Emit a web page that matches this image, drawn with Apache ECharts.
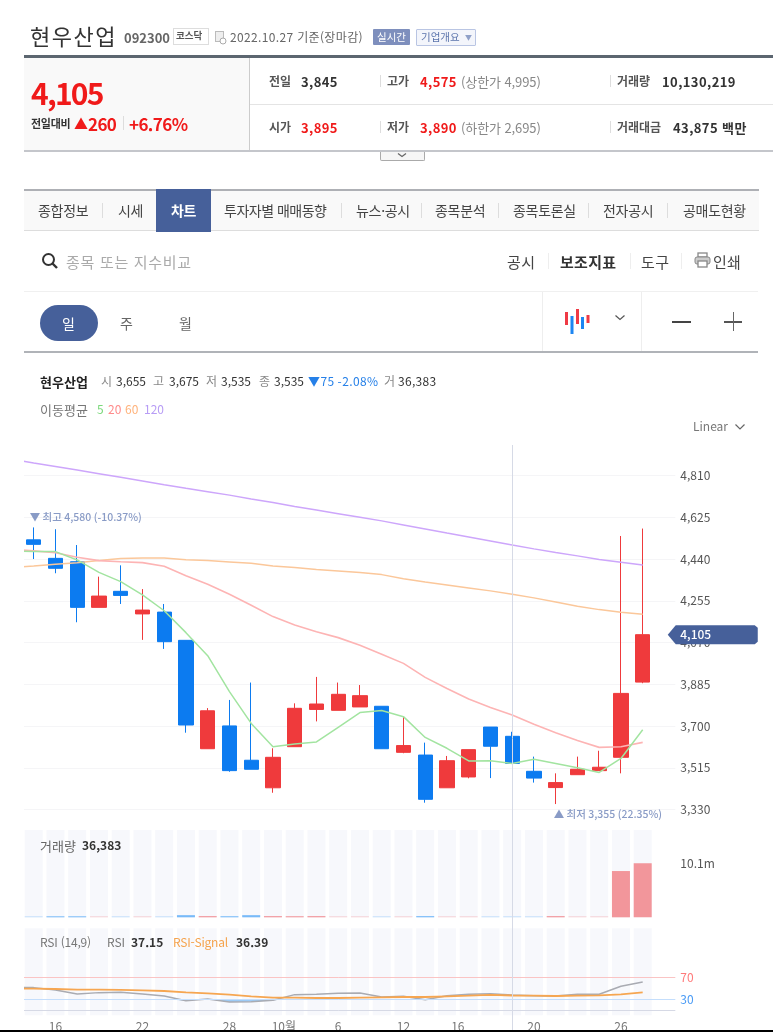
<!DOCTYPE html>
<html lang="ko"><head><meta charset="utf-8">
<script src="https://cdn.jsdelivr.net/npm/echarts@6/dist/echarts.min.js"></script>
<style>
html,body{margin:0;padding:0;background:#fff;width:773px;height:1032px;overflow:hidden;font-family:"Noto Sans CJK KR","Noto Sans",sans-serif}
#chart{position:absolute;left:0;top:0;width:773px;height:1032px;clip-path:inset(0 0 0 24px);filter:blur(.35px)}
#ui{position:absolute;left:0;top:0;width:773px;height:1032px;pointer-events:none;filter:blur(.3px)}
.t{position:absolute;white-space:nowrap;line-height:1;transform:translateY(-50%);font-size:12px;color:#444}
.b{font-weight:700}.r{color:#f01a1a}.g{color:#888}
.box{position:absolute}
.n{font-size:13px;font-weight:700;color:#333;letter-spacing:.4px}
.nav{font-size:14px;color:#444;letter-spacing:-.3px}
.sep{position:absolute;width:1px;background:#ddd}
svg{position:absolute}
</style></head><body>
<div id="chart"></div>
<div id="ui">
<span class="t" style="left:30px;top:35px;font-size:22px;color:#333;letter-spacing:1.5px">현우산업</span>
<span class="t b" style="left:124px;top:37px;font-size:13px;color:#666">092300</span>
<span class="box" style="left:173px;top:28px;width:34px;height:15px;border:1px solid #ddd"></span>
<span class="t b" style="left:176px;top:36px;font-size:9.5px;color:#555">코스닥</span>
<svg style="left:215px;top:31px" width="12" height="14"><rect x="0.5" y="0.5" width="8" height="10" fill="#eee" stroke="#bbb"/><circle cx="8" cy="10" r="3" fill="#fff" stroke="#aaa"/></svg>
<span class="t" style="left:230px;top:37px;color:#666;letter-spacing:.35px">2022.10.27 기준(장마감)</span>
<span class="box" style="left:373px;top:29px;width:37px;height:16px;background:#7e8fbd;border-radius:1px"></span>
<span class="t" style="left:377px;top:37px;font-size:10.5px;color:#fff">실시간</span>
<span class="box" style="left:416px;top:29px;width:58px;height:15px;background:#f3f5fb;border:1px solid #b9c5e3;border-radius:1px"></span>
<span class="t" style="left:421px;top:37px;font-size:10.5px;color:#5b74ac">기업개요</span>
<span class="t" style="left:465px;top:37px;font-size:7px;color:#8fa0c8">▼</span>

<div class="box" style="left:24px;top:55px;width:749px;height:3px;background:#5c6670"></div>
<div class="box" style="left:24px;top:58px;width:225px;height:93px;background:#f9f9f9"></div>
<div class="box" style="left:249px;top:58px;width:1px;height:93px;background:#ccc"></div>
<div class="box" style="left:250px;top:104px;width:523px;height:1px;background:#e4e4e4"></div>
<div class="box" style="left:24px;top:150px;width:749px;height:2px;background:#c4c6cb"></div>
<span class="t b r" style="left:31px;top:92px;font-size:30px;letter-spacing:-1.8px">4,105</span>
<span class="t b" style="left:31px;top:123px;font-size:11px;color:#333;letter-spacing:-.3px">전일대비</span>
<span class="t b r" style="left:74px;top:123px;font-size:14px">▲</span>
<span class="t b r" style="left:88px;top:123px;font-size:17px;letter-spacing:-.6px">260</span>
<div class="sep" style="left:123px;top:116px;height:14px"></div>
<span class="t b r" style="left:129px;top:123px;font-size:17px;letter-spacing:-.6px">+6.76%</span>

<span class="t b" style="left:269px;top:81px;color:#555">전일</span>
<span class="t n" style="left:301px;top:81px">3,845</span>
<div class="sep" style="left:380px;top:75px;height:12px"></div>
<span class="t b" style="left:387px;top:81px;color:#555">고가</span>
<span class="t n r" style="left:420px;top:81px;color:#f01a1a">4,575</span>
<span class="t g" style="left:461px;top:81px;font-size:13px;letter-spacing:-.1px">(상한가 4,995)</span>
<div class="sep" style="left:610px;top:75px;height:12px"></div>
<span class="t b" style="left:617px;top:81px;color:#555">거래량</span>
<span class="t n" style="left:662px;top:81px">10,130,219</span>

<span class="t b" style="left:269px;top:127px;color:#555">시가</span>
<span class="t n r" style="left:301px;top:127px;color:#f01a1a">3,895</span>
<div class="sep" style="left:380px;top:121px;height:12px"></div>
<span class="t b" style="left:387px;top:127px;color:#555">저가</span>
<span class="t n r" style="left:420px;top:127px;color:#f01a1a">3,890</span>
<span class="t g" style="left:461px;top:127px;font-size:13px;letter-spacing:-.1px">(하한가 2,695)</span>
<div class="sep" style="left:610px;top:121px;height:12px"></div>
<span class="t b" style="left:617px;top:127px;color:#555">거래대금</span>
<span class="t n" style="left:673px;top:127px">43,875 백만</span>
<div class="box" style="left:380px;top:152px;width:43px;height:8px;border:1px solid #aaa;border-top:none;border-radius:0 0 2px 2px;background:#f6f6f6"></div>
<svg style="left:396px;top:152px" width="12" height="7"><path d="M2 1.5 L6 4.5 L10 1.5" fill="none" stroke="#666" stroke-width="1.2"/></svg>

<div class="box" style="left:24px;top:189px;width:735px;height:42px;background:#f9f9f9;border-top:2px solid #aeb0b5;border-bottom:1px solid #ddd;box-sizing:border-box"></div>
<div class="box" style="left:156px;top:189px;width:55px;height:43px;background:#46609a"></div>
<span class="t nav" style="left:38px;top:210px">종합정보</span><div class="sep" style="left:102px;top:203px;height:15px"></div>
<span class="t nav" style="left:118px;top:210px">시세</span>
<span class="t nav b" style="left:171px;top:210px;color:#fff">차트</span>
<span class="t nav" style="left:224px;top:210px;letter-spacing:-.5px">투자자별 매매동향</span><div class="sep" style="left:341px;top:203px;height:15px"></div>
<span class="t nav" style="left:356px;top:210px">뉴스·공시</span><div class="sep" style="left:421px;top:203px;height:15px"></div>
<span class="t nav" style="left:435px;top:210px">종목분석</span><div class="sep" style="left:498px;top:203px;height:15px"></div>
<span class="t nav" style="left:513px;top:210px">종목토론실</span><div class="sep" style="left:588px;top:203px;height:15px"></div>
<span class="t nav" style="left:603px;top:210px">전자공시</span><div class="sep" style="left:667px;top:203px;height:15px"></div>
<span class="t nav" style="left:683px;top:210px">공매도현황</span>

<svg style="left:41px;top:252px" width="18" height="18"><circle cx="7.5" cy="7.5" r="5.5" fill="none" stroke="#333" stroke-width="2"/><path d="M11.5 11.5 L16 16" stroke="#333" stroke-width="2.4"/></svg>
<span class="t" style="left:66px;top:261px;font-size:15px;color:#aaa;letter-spacing:.7px">종목 또는 지수비교</span>
<span class="t" style="left:507px;top:261px;font-size:15px;color:#444;letter-spacing:.4px">공시</span><div class="sep" style="left:548px;top:253px;height:16px;background:#eee"></div>
<span class="t b" style="left:560px;top:261px;font-size:15px;color:#333;letter-spacing:.3px">보조지표</span><div class="sep" style="left:630px;top:253px;height:16px;background:#eee"></div>
<span class="t" style="left:641px;top:261px;font-size:15px;color:#444;letter-spacing:.4px">도구</span><div class="sep" style="left:681px;top:253px;height:16px;background:#eee"></div>
<svg style="left:694px;top:252px" width="17" height="17"><rect x="4" y="1" width="9" height="4" fill="none" stroke="#888" stroke-width="1.3"/><rect x="1" y="5" width="15" height="7" rx="2" fill="#ccc" stroke="#888"/><rect x="4" y="9" width="9" height="6" fill="#fff" stroke="#888" stroke-width="1.3"/></svg>
<span class="t" style="left:713px;top:261px;font-size:15px;color:#444;letter-spacing:.3px">인쇄</span>

<div class="box" style="left:24px;top:291px;width:734px;height:1px;background:#f0f0f0"></div>
<div class="box" style="left:40px;top:305px;width:58px;height:36px;background:#46609a;border-radius:18px"></div>
<span class="t" style="left:62px;top:323px;font-size:14px;color:#fff">일</span>
<span class="t" style="left:120px;top:323px;font-size:14px;color:#666">주</span>
<span class="t" style="left:179px;top:323px;font-size:14px;color:#666">월</span>
<div class="box" style="left:542px;top:292px;width:1px;height:60px;background:#eee"></div>
<div class="box" style="left:641px;top:292px;width:1px;height:60px;background:#eee"></div>
<svg style="left:564px;top:308px" width="28" height="27"><rect x="1" y="4" width="3" height="13" fill="#ef3a45"/><rect x="6.5" y="8" width="3" height="18" fill="#1d86f2"/><rect x="12" y="1" width="3" height="15" fill="#ef3a45"/><rect x="17" y="9" width="3" height="12" fill="#1d86f2"/><rect x="22.5" y="7" width="3" height="8" fill="#ef3a45"/></svg>
<svg style="left:614px;top:314px" width="12" height="8"><path d="M1.5 1.5 L6 5.5 L10.5 1.5" fill="none" stroke="#555" stroke-width="1.2"/></svg>
<div class="box" style="left:672px;top:321px;width:19px;height:1.5px;background:#444"></div>
<div class="box" style="left:724px;top:321px;width:18px;height:1.5px;background:#555"></div>
<div class="box" style="left:732.5px;top:312px;width:1.5px;height:19px;background:#666"></div>
<div class="box" style="left:24px;top:351px;width:734px;height:2px;background:#b0b3b8"></div>

<span class="t b" style="left:40px;top:381px;font-size:13px;color:#222">현우산업</span>
<span class="t g" style="left:101px;top:381px">시</span><span class="t" style="left:116px;top:381px;color:#333">3,655</span>
<span class="t g" style="left:153px;top:381px">고</span><span class="t" style="left:169px;top:381px;color:#333">3,675</span>
<span class="t g" style="left:206px;top:381px">저</span><span class="t" style="left:221px;top:381px;color:#333">3,535</span>
<span class="t g" style="left:259px;top:381px">종</span><span class="t" style="left:274px;top:381px;color:#333">3,535</span>
<span class="t" style="left:308px;top:381px;color:#2680e8;letter-spacing:.4px">▼75 -2.08%</span>
<span class="t g" style="left:384px;top:381px">거</span><span class="t" style="left:398px;top:381px;color:#333;letter-spacing:.3px">36,383</span>
<span class="t" style="left:40px;top:409px;font-size:13px;color:#777">이동평균</span>
<span class="t" style="left:97px;top:409px;color:#7bd87b">5</span>
<span class="t" style="left:108px;top:409px;color:#ff8a8a">20</span>
<span class="t" style="left:125px;top:409px;color:#ffb27a">60</span>
<span class="t" style="left:144px;top:409px;color:#b79cf5">120</span>
<span class="t" style="left:693px;top:426px;color:#777">Linear</span>
<svg style="left:734px;top:423px" width="12" height="8"><path d="M1.5 1.5 L6 6 L10.5 1.5" fill="none" stroke="#666" stroke-width="1.2"/></svg>

<span class="t" style="left:40px;top:845px;font-size:13px;color:#666">거래량</span><span class="t b" style="left:82px;top:845px;color:#333">36,383</span>
<span class="t" style="left:40px;top:942px;color:#777;letter-spacing:-.2px">RSI (14,9)</span>
<span class="t" style="left:107px;top:942px;color:#777">RSI</span><span class="t b" style="left:131px;top:942px;color:#333">37.15</span>
<span class="t" style="left:173px;top:942px;color:#f5a34d;letter-spacing:-.2px">RSI-Signal</span><span class="t b" style="left:236px;top:942px;color:#333">36.39</span>
<div class="box" style="left:0;top:1030px;width:773px;height:2px;background:#000"></div>
</div>
<script>
// Categories: trading days. The first entry is the session before the visible window (only its lines enter the frame).
const dates = ['9/14','9/15','9/16','9/19','9/20','9/21','9/22','9/23','9/26','9/27','9/28','9/29','9/30','10/4','10/5','10/6','10/7','10/11','10/12','10/13','10/14','10/17','10/18','10/19','10/20','10/21','10/24','10/25','10/26','10/27',''];
// OHLC for visible sessions
const open  = [4525,4443,4428,4226,4297,4197,4205,4080,3600,3701,3549,3427,3609,3774,3770,3785,3788,3584,3572,3427,3475,3696,3655,3500,3428,3485,3503,3562,3895];
const close = [4505,4399,4226,4276,4279,4214,4074,3705,3768,3503,3509,3562,3779,3798,3841,3835,3600,3614,3376,3547,3596,3611,3535,3470,3450,3509,3518,3845,4105];
const low   = [4440,4377,4160,4226,4241,4082,4042,3671,3600,3498,3509,3405,3609,3721,3770,3785,3600,3580,3361,3427,3469,3470,3535,3450,3355,3485,3503,3491,3890];
const high  = [4580,4572,4502,4362,4412,4307,4241,4080,3780,3816,3893,3602,3801,3918,3893,3882,3788,3742,3627,3568,3596,3696,3675,3565,3491,3565,3591,4542,4575];
// Moving averages (first value = session before the window)
const ma5   = [4476,4473,4473,4436,4381,4340,4281,4211,4114,4012,3853,3712,3609,3621,3630,3695,3760,3769,3742,3650,3602,3546,3547,3535,3553,3535,3516,3495,3557,3684];
const ma20  = [4483,4476,4468,4448,4433,4428,4424,4408,4366,4328,4284,4235,4185,4148,4118,4092,4058,4018,3978,3916,3867,3820,3783,3749,3708,3671,3636,3606,3609,3628];
const ma60  = [4402,4409,4417,4424,4433,4442,4445,4445,4437,4433,4427,4421,4409,4402,4394,4387,4380,4371,4353,4338,4325,4312,4299,4284,4268,4250,4231,4216,4204,4195];
const ma120 = [4882,4865,4850,4834,4818,4802,4786,4769,4753,4738,4723,4706,4690,4673,4657,4641,4625,4609,4591,4573,4555,4538,4520,4502,4485,4469,4454,4438,4426,4414];
// Volume for visible sessions
const volume = [60000,170000,170000,60000,60000,50000,50000,400000,220000,200000,400000,220000,200000,220000,70000,60000,50000,60000,220000,60000,60000,40000,36383,40000,220000,60000,60000,8680000,10130219];
// RSI (first value = session before the window)
const rsi    = [50.9,50.9,46.6,39.2,41.7,42.3,39.2,35.5,26.9,30,24.5,25.1,27.5,38,38.6,40.4,41.1,33.7,34.9,28.8,36.1,38.6,39.8,37.15,36.1,35.5,38.6,38.6,53.3,61.3];
const signal = [49,49,48.4,47.2,47.2,46.6,46,44.7,42.3,40.4,38,34.9,32.5,32.5,31.8,31.8,32.5,33.1,33.7,33.7,34.9,36.1,37.4,36.39,36.1,35.5,36.1,36.8,38.6,42.3];
// Axis labels: fractional session positions because the labels sit on calendar time
const dateTickAt   = [1,5,9,11.5,14,17,19.5,23,27];
const dateTickText = ['16','22','28','10월','6','12','16','20','26'];
const priceTicks = {min:3330,max:4995,interval:185};
const lastPrice = 4105, hiIndex = 1, loIndex = 25, crossIndex = 22;
const hiLabel = '▼ 최고 4,580 (-10.37%)', loLabel = '▲ 최저 3,355 (22.35%)';

const RED='#ef3a3c', BLUE='#0c7bf0', FONT='"Noto Sans CJK KR","Noto Sans",sans-serif';
const L=1.075, W=674.25;
const chart = echarts.init(document.getElementById('chart'),null,{renderer:'canvas'});
const gridRect=(top,height)=>({left:L,width:W,top,height,containLabel:false});
const catAxis=(i)=>({type:'category',gridIndex:i,data:dates,boundaryGap:true,show:false});
const up = open.map((o,i)=>close[i]>=o);
const ohlc = [['-','-','-','-']].concat(open.map((o,i)=>[o,close[i],low[i],high[i]]));
const ma=(data,color,width)=>({type:'line',data,xAxisIndex:0,yAxisIndex:0,showSymbol:false,symbol:'none',smooth:false,silent:true,lineStyle:{color,width},z:3});
const rsiGuide=(v,color)=>({type:'line',xAxisIndex:2,yAxisIndex:2,data:rsi,symbol:'none',silent:true,z:2,lineStyle:{opacity:0},
  markLine:{silent:true,symbol:'none',label:{show:false},lineStyle:{color,width:1,type:'solid',opacity:1},data:[{yAxis:v}]}});
const lead=(a)=>['-'].concat(a);

chart.setOption({
  animation:false,
  grid:[gridRect(433.7,376),gridRect(830,87.3),gridRect(928.3,87),{left:L,width:W,top:445,bottom:0}],
  xAxis:[catAxis(0),catAxis(1),catAxis(2),
    {type:'value',gridIndex:3,min:-1.5,max:29.5,interval:0.5,
     axisLine:{show:false},axisTick:{show:false},splitLine:{show:false},
     axisLabel:{inside:true,margin:0,fontSize:12,color:'#777',fontFamily:FONT,hideOverlap:false,showMinLabel:false,showMaxLabel:false,
       formatter:v=>{const i=dateTickAt.indexOf(v);return i<0?'':dateTickText[i];}}}],
  yAxis:[
    {type:'value',gridIndex:0,position:'right',min:priceTicks.min,max:priceTicks.max,interval:priceTicks.interval,
     axisLine:{show:false},axisTick:{show:false},
     splitLine:{showMinLine:true,showMaxLine:false,lineStyle:{color:'#f5f5f7',width:1}},
     axisLabel:{margin:5,fontSize:12,color:'#555',fontFamily:FONT,showMaxLabel:false,formatter:v=>v.toLocaleString('en-US')}},
    {type:'value',gridIndex:1,position:'right',min:0,max:16380000,interval:10130219,
     axisLine:{show:false},axisTick:{show:false},splitLine:{show:false},
     axisLabel:{margin:5,fontSize:12,color:'#555',fontFamily:FONT,showMinLabel:false,showMaxLabel:false,formatter:v=>(v/1e6).toFixed(1)+'m'}},
    {type:'value',gridIndex:2,position:'right',min:0,max:160,interval:10,
     axisLine:{show:false},axisTick:{show:false},splitLine:{show:false},
     axisLabel:{margin:5,fontSize:12,fontFamily:FONT,color:v=>Number(v)===70?'#ff7a7a':'#4a9bf5',formatter:v=>(v===30||v===70)?String(v):''}},
    {type:'value',gridIndex:3,min:0,max:1,show:false}
  ],
  series:[
    ma(ma120,'#cda6fb',1.5),ma(ma60,'#fbc79a',1.5),ma(ma20,'#fdb4b4',1.6),ma(ma5,'#a2e4a0',1.5),
    {type:'candlestick',xAxisIndex:0,yAxisIndex:0,data:ohlc,barWidth:14.6,silent:true,z:2,
     itemStyle:{color:RED,color0:BLUE,borderColor:RED,borderColor0:BLUE,borderWidth:1}},
    {type:'scatter',xAxisIndex:0,yAxisIndex:0,symbolSize:0,silent:true,z:6,
     data:[{value:[hiIndex,high[hiIndex-1]],label:{formatter:hiLabel,position:'top',align:'left',offset:[-4,0]}},
           {value:[loIndex,low[loIndex-1]],label:{formatter:loLabel,position:'bottom',align:'left',offset:[-2,0]}}],
     label:{show:true,fontSize:10.5,fontWeight:500,color:'#6c82b8',fontFamily:FONT}},
    {type:'custom',xAxisIndex:0,yAxisIndex:0,clip:false,silent:true,z:50,data:[[dates.length-1,lastPrice]],
     renderItem:(p,api)=>{const c=api.coord([api.value(0),api.value(1)]);const x=c[0]+3.3,y=c[1];
       return {type:'group',children:[
         {type:'polygon',shape:{points:[[x,y],[x+8,y-9.5],[x+87,y-9.5],[x+90,y-7],[x+90,y+7],[x+87,y+9.5],[x+8,y+9.5]]},style:{fill:'#46609a'}},
         {type:'text',style:{x:x+12.5,y,text:api.value(1).toLocaleString('en-US'),fill:'#fff',font:'500 12px '+FONT,verticalAlign:'middle'}}]};}},
    {type:'bar',xAxisIndex:1,yAxisIndex:1,data:lead(volume),barWidth:18,barMinHeight:1,silent:true,
     showBackground:true,backgroundStyle:{color:'#f7f8fc'},
     itemStyle:{color:p=>{const k=p.dataIndex-1;const c=up[k]?'242,150,155':'120,186,248';return 'rgba('+c+','+(volume[k]<100000?0.4:1)+')';}}},
    {type:'bar',xAxisIndex:2,yAxisIndex:2,data:rsi.map(()=>160),barWidth:18,silent:true,itemStyle:{color:'#f7f8fc'},z:1},
    rsiGuide(70,'#fac4c4'),rsiGuide(30,'#c4defc'),rsiGuide(8.5,'#d6d9e5'),
    {type:'line',xAxisIndex:2,yAxisIndex:2,data:rsi.map(v=>Math.min(v,30)),symbol:'none',silent:true,z:2,lineStyle:{width:0},areaStyle:{origin:30,color:'#9ccbf7',opacity:1}},
    {type:'line',xAxisIndex:2,yAxisIndex:2,data:rsi,symbol:'none',silent:true,z:3,lineStyle:{color:'#a9abb2',width:1.5}},
    {type:'line',xAxisIndex:2,yAxisIndex:2,data:signal,symbol:'none',silent:true,z:4,lineStyle:{color:'#f6a651',width:1.8}},
    {type:'scatter',xAxisIndex:3,yAxisIndex:3,symbolSize:0,silent:true,data:[[crossIndex,0.5]],z:5,
     markLine:{silent:true,symbol:'none',animation:false,label:{show:false},data:[{xAxis:crossIndex}],lineStyle:{color:'#d6dae6',width:1,type:'solid'}}}
  ]
});
</script>
</body></html>
